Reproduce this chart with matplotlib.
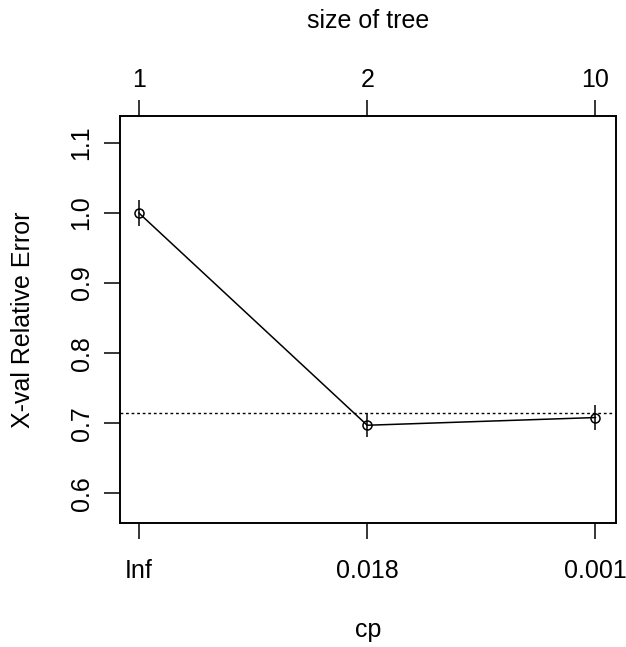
import numpy as np
import matplotlib
matplotlib.use("Agg")
import matplotlib.pyplot as plt

# cross-validation results from the cp table
cp_labels = ["Inf", "0.018", "0.001"]
tree_sizes = ["1", "2", "10"]
xerror = [1.000, 0.697, 0.708]
xstd = [0.019, 0.017, 0.018]

plt.rcParams['font.family'] = ['Liberation Sans', 'DejaVu Sans']
fs = 18

fig = plt.figure(figsize=(6.26, 6.47), dpi=100)
W, H = 626, 647
ax = fig.add_axes([120 / W, (H - 523.3) / H, 496 / W, 407.6 / H])

x = np.arange(1, len(xerror) + 1)
xerror = np.array(xerror)
xstd = np.array(xstd)

ax.plot(x, xerror, color='black', lw=1.1, marker='o', ms=6.5,
        mfc='none', mec='black', mew=1.1)
ax.vlines(x, xerror - xstd, xerror + xstd, color='black', lw=1.1)

# 1-SE line above the minimum
imin = np.argmin(xerror)
ax.axhline(xerror[imin] + xstd[imin], color='black', lw=1.0,
           linestyle=(0, (2, 2)))

ax.set_xlim(0.917, 3.09)
ax.set_ylim(0.557, 1.139)

ax.set_xticks(x)
ax.set_xticklabels(cp_labels, fontsize=fs)
ax.set_yticks([0.6, 0.7, 0.8, 0.9, 1.0, 1.1])
ax.set_yticklabels(['0.6', '0.7', '0.8', '0.9', '1.0', '1.1'], fontsize=fs,
                   rotation=90, va='center')
ax.tick_params(axis='x', length=11.5, width=1.1, pad=14.5, direction='out')
ax.tick_params(axis='y', length=11.5, width=1.1, pad=7.5, direction='out')

for s in ax.spines.values():
    s.set_linewidth(1.2)

top = ax.twiny()
top.set_xlim(ax.get_xlim())
top.set_xticks(x)
top.set_xticklabels(tree_sizes, fontsize=fs)
top.tick_params(axis='x', length=11.5, width=1.1, pad=5.5, direction='out')
for s in top.spines.values():
    s.set_linewidth(1.2)

ax.set_xlabel('cp', fontsize=fs)
ax.xaxis.set_label_coords(0.5, (523.3 - 630) / 407.6)
ax.xaxis.label.set_va('center')

ax.set_ylabel('X-val Relative Error', fontsize=fs)
ax.yaxis.set_label_coords((23 - 120) / 496, 0.5)
ax.yaxis.label.set_va('center')

top.set_xlabel('size of tree', fontsize=fs)
top.xaxis.set_label_coords(0.5, (523.3 - 21) / 407.6)
top.xaxis.label.set_va('center')

fig.savefig('out.png', dpi=100)
